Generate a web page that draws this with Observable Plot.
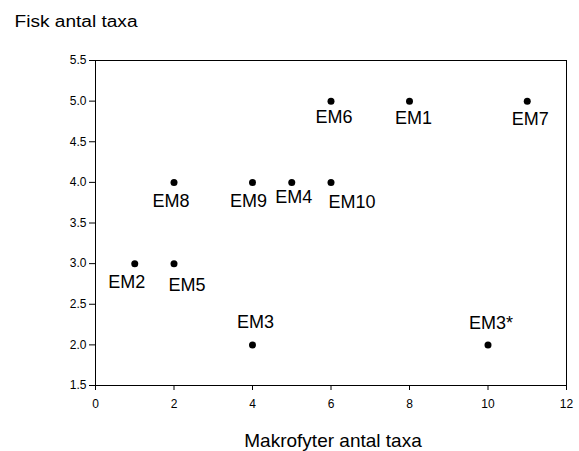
<!DOCTYPE html>
<html>
<head>
<meta charset="utf-8">
<script src="https://cdn.jsdelivr.net/npm/d3@7"></script>
<script src="https://cdn.jsdelivr.net/npm/@observablehq/plot@0.6"></script>
<style>
  html, body { margin: 0; padding: 0; background: white; }
</style>
</head>
<body>
<div id="chart"></div>
<script>
// Data
const names = ["EM1", "EM2", "EM3", "EM3*", "EM4", "EM5", "EM6", "EM7", "EM8", "EM9", "EM10"];
const makrofyter = [8, 1, 4, 10, 5, 2, 6, 11, 2, 4, 6];
const fisk = [5, 3, 2, 2, 4, 3, 5, 5, 4, 4, 4];
const xTicks = [0, 2, 4, 6, 8, 10, 12];
const yTicks = [1.5, 2.0, 2.5, 3.0, 3.5, 4.0, 4.5, 5.0, 5.5];
const title = "Fisk antal taxa";
const xLabel = "Makrofyter antal taxa";

// Label placement (style, kept separate from data)
const labelOffset = {
  "EM1": [4, 17], "EM2": [-8, 19], "EM3": [3, -23], "EM3*": [3, -22],
  "EM4": [2, 15], "EM5": [13, 22], "EM6": [3, 16], "EM7": [3, 18],
  "EM8": [-3, 19], "EM9": [-4, 19], "EM10": [21, 20]
};

const data = names.map((n, i) => ({name: n, x: makrofyter[i], y: fisk[i]}));

const labelMarks = data.map(d => Plot.text([d], {
  x: "x", y: "y", text: "name",
  dx: labelOffset[d.name][0], dy: labelOffset[d.name][1],
  fontSize: 18, fill: "black"
}));

const chart = Plot.plot({
  width: 579,
  height: 451,
  marginLeft: 95,
  marginRight: 13,
  marginTop: 60,
  marginBottom: 66,
  style: {fontFamily: "'Liberation Sans', Arial, sans-serif", background: "white", color: "black"},
  x: {domain: [0, 12]},
  y: {domain: [1.5, 5.5]},
  marks: [
    Plot.frame({stroke: "black", strokeWidth: 1}),
    Plot.axisX({ticks: xTicks, tickSize: 5, tickPadding: 9, fontSize: 12, label: null, tickFormat: d => String(d)}),
    Plot.axisY({ticks: yTicks, tickSize: 6, tickPadding: 3, fontSize: 12, label: null, tickFormat: d => d.toFixed(1)}),
    Plot.dot(data, {x: "x", y: "y", r: 3.5, fill: "black", stroke: "none"}),
    ...labelMarks,
    Plot.text([title], {frameAnchor: "top-left", textAnchor: "start", lineAnchor: "bottom", dx: -81, dy: -34, fontSize: 16, fill: "black", className: "title-text"}),
    Plot.text([xLabel], {frameAnchor: "bottom", textAnchor: "middle", lineAnchor: "bottom", dx: 2, dy: 61, fontSize: 19, fill: "black"})
  ]
});
document.getElementById("chart").appendChild(chart);
// widen the title slightly to match the reference proportions
d3.select(chart).selectAll(".title-text text")
  .attr("textLength", 123)
  .attr("lengthAdjust", "spacingAndGlyphs");
</script>
</body>
</html>
